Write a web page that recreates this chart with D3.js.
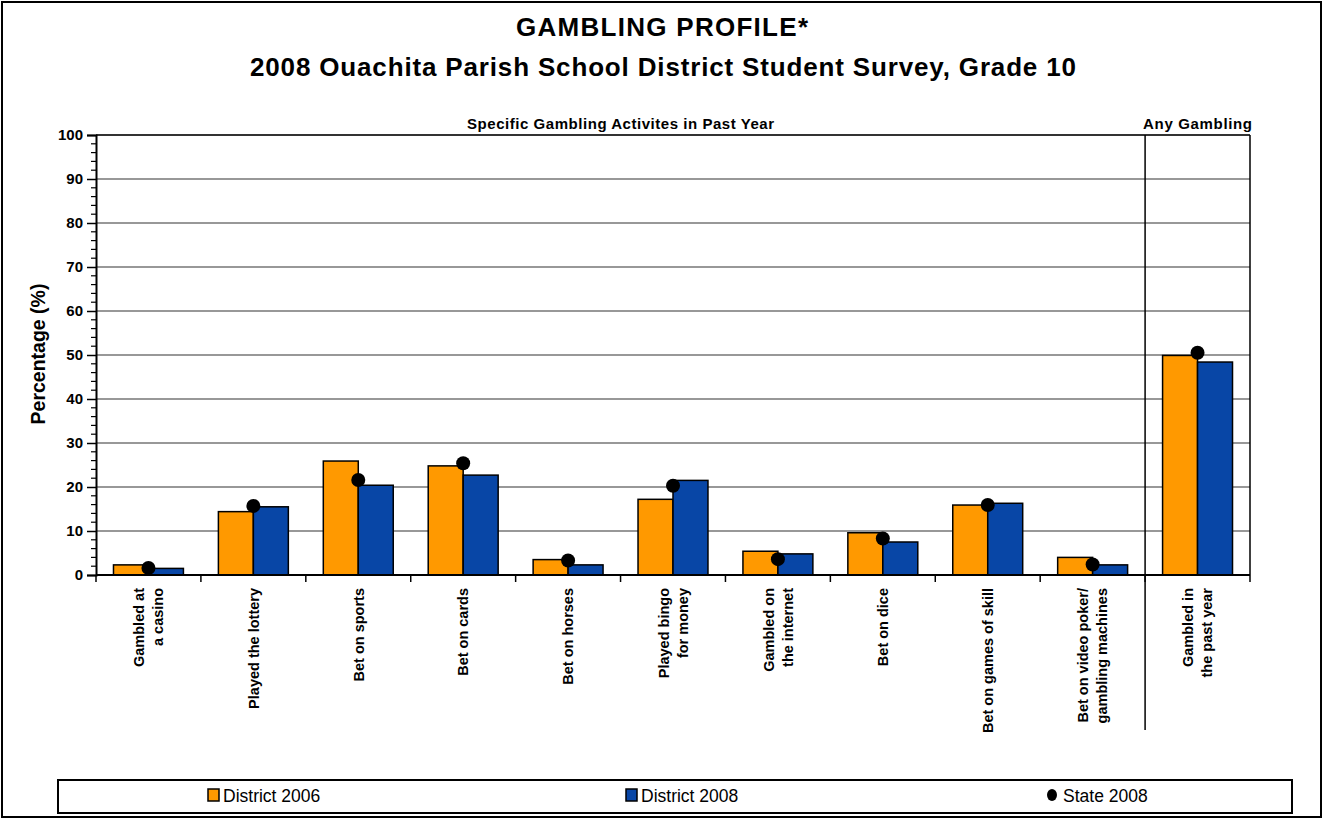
<!DOCTYPE html>
<html><head><meta charset="utf-8">
<script src="https://cdn.jsdelivr.net/npm/d3@7"></script>
<style>
html,body{margin:0;padding:0;background:#fff;}
svg{display:block;font-family:"Liberation Sans",Arial,sans-serif;}
</style></head>
<body>
<svg id="chart" width="1324" height="820"></svg>
<script>
const categories = [
  ["Gambled at","a casino"],
  ["Played the lottery"],
  ["Bet on sports"],
  ["Bet on cards"],
  ["Bet on horses"],
  ["Played bingo","for money"],
  ["Gambled on","the internet"],
  ["Bet on dice"],
  ["Bet on games of skill"],
  ["Bet on video poker/","gambling machines"],
  ["Gambled in","the past year"]
];
const district2006 = [2.3, 14.4, 25.9, 24.8, 3.5, 17.2, 5.4, 9.6, 15.9, 4.0, 49.9];
const district2008 = [1.5, 15.5, 20.4, 22.7, 2.3, 21.5, 4.8, 7.5, 16.3, 2.3, 48.4];
const state2008    = [1.6, 15.7, 21.6, 25.4, 3.3, 20.3, 3.6, 8.3, 15.9, 2.4, 50.5];
const yTicks = [0,10,20,30,40,50,60,70,80,90,100];
const seriesNames = ["District 2006","District 2008","State 2008"];
const colors = {"District 2006":"#FF9900","District 2008":"#0846A6"};

const svg = d3.select("#chart");
const L = 96, R = 1250, T = 135, B = 575;

// outer frame
svg.append("rect").attr("x",2).attr("y",2).attr("width",1319).attr("height",815)
  .attr("fill","#fff").attr("stroke","#000").attr("stroke-width",2);

// titles
svg.append("text").attr("x",662).attr("y",36).attr("text-anchor","middle")
  .attr("font-size",26).attr("font-weight","bold")
  .attr("textLength",292).attr("lengthAdjust","spacing").text("GAMBLING PROFILE*");
svg.append("text").attr("x",663).attr("y",76).attr("text-anchor","middle")
  .attr("font-size",26).attr("font-weight","bold")
  .attr("textLength",826).attr("lengthAdjust","spacing")
  .text("2008 Ouachita Parish School District Student Survey, Grade 10");

const idx = d3.range(categories.length);
const x0 = d3.scaleBand().domain(idx).range([L,R]).paddingInner(0).paddingOuter(0);
const x1 = d3.scaleBand().domain(["District 2006","District 2008"]).range([0,x0.bandwidth()]).paddingInner(0).paddingOuter(0.5);
const y = d3.scaleLinear().domain([0,100]).range([B,T]);

// gridlines
svg.append("g").selectAll("line").data(yTicks.filter(d=>d>0)).join("line")
  .attr("x1",L).attr("x2",R).attr("y1",d=>y(d)).attr("y2",d=>y(d))
  .attr("stroke","#333").attr("stroke-width",d=>d===100?2:1.2);

// right frame line
svg.append("line").attr("x1",R).attr("x2",R).attr("y1",T).attr("y2",B)
  .attr("stroke","#000").attr("stroke-width",1.5);

// section headings
const divX = x0(10);
svg.append("text").attr("x",(L+divX)/2).attr("y",129).attr("text-anchor","middle")
  .attr("font-size",15).attr("font-weight","bold")
  .attr("textLength",307).attr("lengthAdjust","spacing")
  .text("Specific Gambling Activites in Past Year");
svg.append("text").attr("x",(divX+R)/2).attr("y",129).attr("text-anchor","middle")
  .attr("font-size",15).attr("font-weight","bold")
  .attr("textLength",109).attr("lengthAdjust","spacing").text("Any Gambling");

// bars
const rows = idx.map(i=>({i, vals:[["District 2006",district2006[i]],["District 2008",district2008[i]]]}));
const g = svg.append("g");
g.selectAll("g").data(rows).join("g")
  .attr("transform",d=>`translate(${x0(d.i)},0)`)
  .selectAll("rect").data(d=>d.vals).join("rect")
  .attr("x",d=>x1(d[0])).attr("width",x1.bandwidth())
  .attr("y",d=>y(d[1])).attr("height",d=>B-y(d[1]))
  .attr("fill",d=>colors[d[0]]).attr("stroke","#000").attr("stroke-width",1.5);

// divider
svg.append("line").attr("x1",divX).attr("x2",divX).attr("y1",T).attr("y2",730)
  .attr("stroke","#000").attr("stroke-width",1.5);

// y axis
const yAxis = d3.axisLeft(y).tickValues(yTicks).tickSize(9).tickPadding(4);
const ya = svg.append("g").attr("transform",`translate(${L},0)`).call(yAxis);
ya.select(".domain").attr("stroke","#000").attr("stroke-width",2);
ya.selectAll(".tick line").attr("stroke","#000").attr("stroke-width",1.5);
ya.selectAll("text").attr("font-size",15).attr("font-weight","bold").attr("fill","#000")
  .attr("font-family","'Liberation Sans',Arial,sans-serif");
const minor = d3.range(0,101,2).filter(d=>d%10!==0);
svg.append("g").selectAll("line").data(minor).join("line")
  .attr("x1",L-5).attr("x2",L).attr("y1",d=>y(d)).attr("y2",d=>y(d))
  .attr("stroke","#000").attr("stroke-width",1.2);

// x axis
const xa = svg.append("g").attr("transform",`translate(0,${B})`);
xa.append("line").attr("x1",L).attr("x2",R).attr("stroke","#000").attr("stroke-width",2);
xa.selectAll("line.t").data(d3.range(categories.length+1)).join("line").attr("class","t")
  .attr("x1",d=>L+d*x0.step()).attr("x2",d=>L+d*x0.step()).attr("y1",0).attr("y2",7)
  .attr("stroke","#000").attr("stroke-width",1.5);

// x labels
const lh = 19;
idx.forEach(i=>{
  const lines = categories[i];
  const cx = x0(i)+x0.bandwidth()/2;
  lines.forEach((t,j)=>{
    const off = (j-(lines.length-1)/2)*lh;
    svg.append("text").attr("transform",`translate(${cx+off},588) rotate(-90)`)
      .attr("text-anchor","end").attr("dy","0.36em")
      .attr("font-size",14.5).attr("font-weight","bold").text(t);
  });
});

// state dots
svg.append("g").selectAll("circle").data(idx).join("circle")
  .attr("cx",i=>x0(i)+x0.bandwidth()/2).attr("cy",i=>y(state2008[i])).attr("r",7)
  .attr("fill","#000");

// y axis title
svg.append("text").attr("transform",`translate(45,354) rotate(-90)`)
  .attr("text-anchor","middle").attr("font-size",19.5).attr("font-weight","bold").text("Percentage (%)");

// legend
const lg = svg.append("g");
lg.append("rect").attr("x",58).attr("y",780).attr("width",1234).attr("height",33)
  .attr("fill","#fff").attr("stroke","#000").attr("stroke-width",2);
const legX = [208, 626, 1048];
seriesNames.forEach((s,k)=>{
  if (k<2) {
    lg.append("rect").attr("x",legX[k]).attr("y",789).attr("width",11).attr("height",12)
      .attr("fill",colors[s]).attr("stroke","#000").attr("stroke-width",1.5);
  } else {
    lg.append("ellipse").attr("cx",legX[k]+4).attr("cy",795).attr("rx",5).attr("ry",6).attr("fill","#000");
  }
  lg.append("text").attr("x",legX[k]+15).attr("y",802).attr("font-size",17.5).text(s);
});
</script>
</body></html>
